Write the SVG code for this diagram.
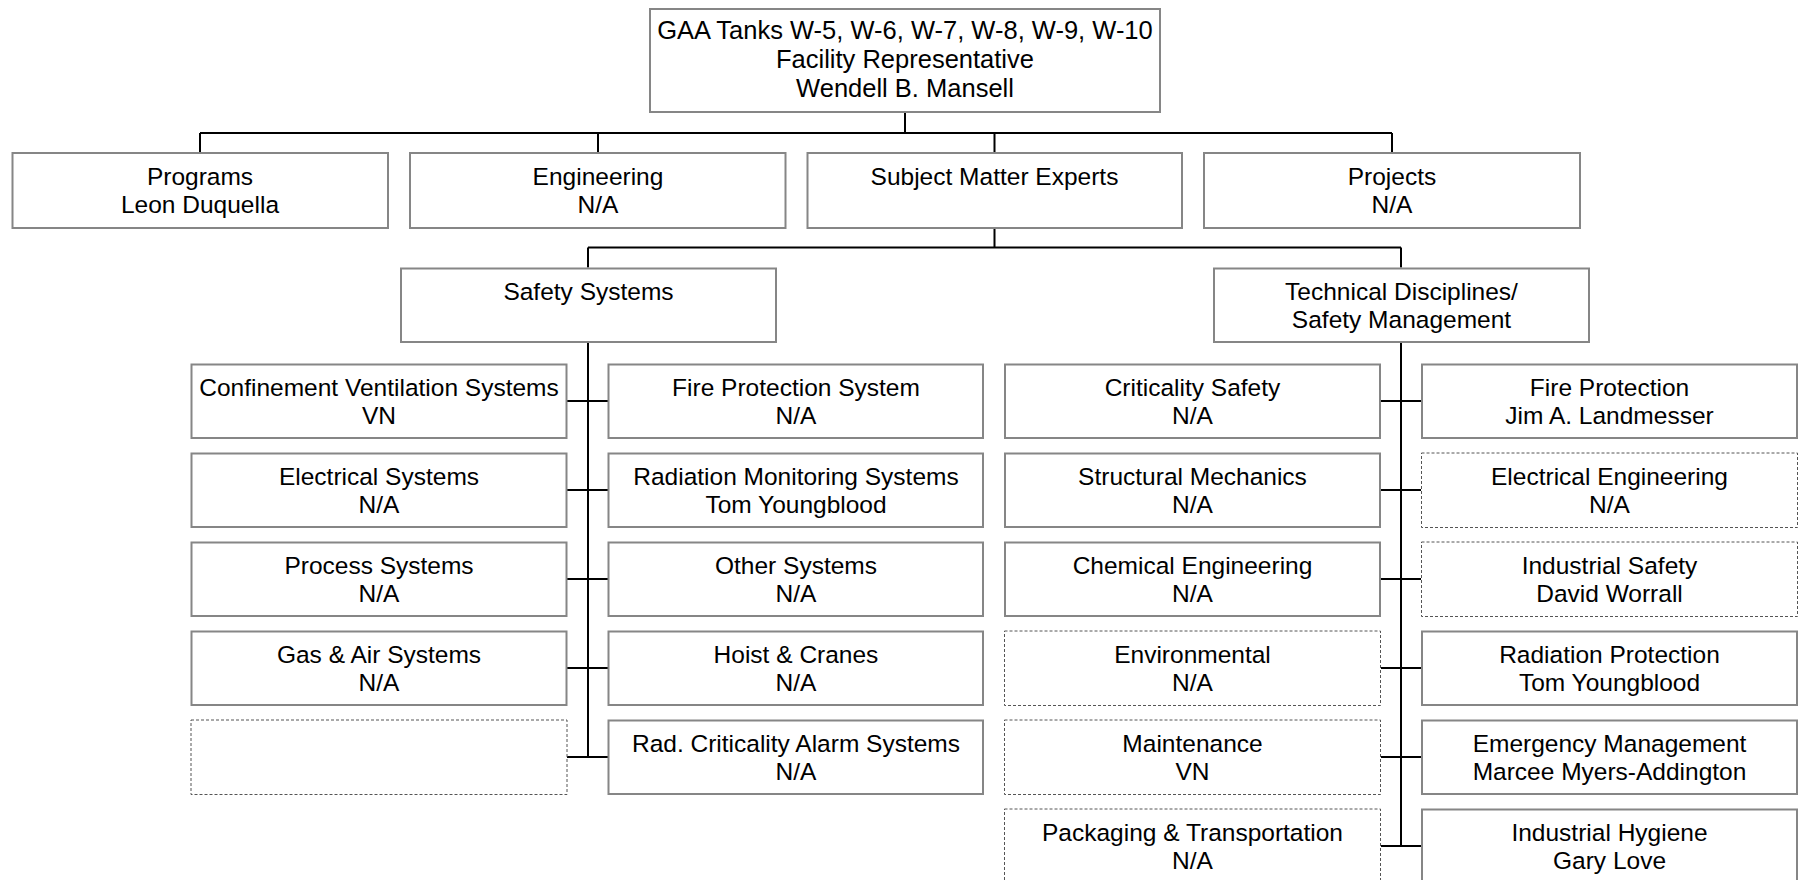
<svg xmlns="http://www.w3.org/2000/svg" width="1799" height="880" viewBox="0 0 1799 880">
<style>
.b{fill:#fff;stroke:#868686;stroke-width:2}
.d{fill:#fff;stroke:#555;stroke-width:1;stroke-dasharray:3 2}
.t{font-family:"Liberation Sans",Arial,sans-serif;font-size:24.5px;fill:#000;text-anchor:middle}
.h{font-size:25.5px}
.c{stroke:#000;stroke-width:2;fill:none}
</style>
<rect width="1799" height="880" fill="#fff"/>
<g id="connectors">
<path class="c" d="M905 113V133M200 133H1392M200 133V152M598 133V152M994.5 133V152M1392 133V152"/>
<path class="c" d="M994.5 229V247.5M588 247.5H1401M588 247.5V267.5M1401 247.5V267.5"/>
<path class="c" d="M588 343V757M567 401H608M567 490H608M567 579H608M567 668H608M567 757H608"/>
<path class="c" d="M1401 343V846M1381 401H1421M1381 490H1421M1381 579H1421M1381 668H1421M1381 757H1421M1381 846H1421"/>
</g>
<g id="top"><rect class="b" x="650" y="9" width="510" height="103"/><text class="t h" x="905" y="39">GAA Tanks W-5, W-6, W-7, W-8, W-9, W-10</text><text class="t h" x="905" y="68">Facility Representative</text><text class="t h" x="905" y="97">Wendell B. Mansell</text></g>
<g id="programs"><rect class="b" x="12.5" y="153" width="375.5" height="75"/><text class="t" x="200" y="185">Programs</text><text class="t" x="200" y="213">Leon Duquella</text></g>
<g id="engineering"><rect class="b" x="410" y="153" width="375.5" height="75"/><text class="t" x="598" y="185">Engineering</text><text class="t" x="598" y="213">N/A</text></g>
<g id="sme"><rect class="b" x="807.5" y="153" width="374.5" height="75"/><text class="t" x="994.5" y="185">Subject Matter Experts</text></g>
<g id="projects"><rect class="b" x="1204" y="153" width="376" height="75"/><text class="t" x="1392" y="185">Projects</text><text class="t" x="1392" y="213">N/A</text></g>
<g id="safety"><rect class="b" x="401" y="268.5" width="375" height="73.5"/><text class="t" x="588.5" y="300">Safety Systems</text></g>
<g id="technical"><rect class="b" x="1214" y="268.5" width="375" height="73.5"/><text class="t" x="1401.5" y="300">Technical Disciplines/</text><text class="t" x="1401.5" y="328">Safety Management</text></g>
<g id="s1"><rect class="b" x="191.5" y="364.5" width="375" height="73.5"/><text class="t" x="379" y="396">Confinement Ventilation Systems</text><text class="t" x="379" y="424">VN</text></g>
<g id="s2"><rect class="b" x="191.5" y="453.5" width="375" height="73.5"/><text class="t" x="379" y="485">Electrical Systems</text><text class="t" x="379" y="513">N/A</text></g>
<g id="s3"><rect class="b" x="191.5" y="542.5" width="375" height="73.5"/><text class="t" x="379" y="574">Process Systems</text><text class="t" x="379" y="602">N/A</text></g>
<g id="s4"><rect class="b" x="191.5" y="631.5" width="375" height="73.5"/><text class="t" x="379" y="663">Gas &amp; Air Systems</text><text class="t" x="379" y="691">N/A</text></g>
<g id="s5"><rect class="d" x="191" y="720" width="376" height="74.5"/></g>
<g id="s6"><rect class="b" x="608.5" y="364.5" width="374.5" height="73.5"/><text class="t" x="796" y="396">Fire Protection System</text><text class="t" x="796" y="424">N/A</text></g>
<g id="s7"><rect class="b" x="608.5" y="453.5" width="374.5" height="73.5"/><text class="t" x="796" y="485">Radiation Monitoring Systems</text><text class="t" x="796" y="513">Tom Youngblood</text></g>
<g id="s8"><rect class="b" x="608.5" y="542.5" width="374.5" height="73.5"/><text class="t" x="796" y="574">Other Systems</text><text class="t" x="796" y="602">N/A</text></g>
<g id="s9"><rect class="b" x="608.5" y="631.5" width="374.5" height="73.5"/><text class="t" x="796" y="663">Hoist &amp; Cranes</text><text class="t" x="796" y="691">N/A</text></g>
<g id="s10"><rect class="b" x="608.5" y="720.5" width="374.5" height="73.5"/><text class="t" x="796" y="752">Rad. Criticality Alarm Systems</text><text class="t" x="796" y="780">N/A</text></g>
<g id="t1"><rect class="b" x="1005" y="364.5" width="375" height="73.5"/><text class="t" x="1192.5" y="396">Criticality Safety</text><text class="t" x="1192.5" y="424">N/A</text></g>
<g id="t2"><rect class="b" x="1005" y="453.5" width="375" height="73.5"/><text class="t" x="1192.5" y="485">Structural Mechanics</text><text class="t" x="1192.5" y="513">N/A</text></g>
<g id="t3"><rect class="b" x="1005" y="542.5" width="375" height="73.5"/><text class="t" x="1192.5" y="574">Chemical Engineering</text><text class="t" x="1192.5" y="602">N/A</text></g>
<g id="t4"><rect class="d" x="1004.5" y="631" width="376" height="74.5"/><text class="t" x="1192.5" y="663">Environmental</text><text class="t" x="1192.5" y="691">N/A</text></g>
<g id="t5"><rect class="d" x="1004.5" y="720" width="376" height="74.5"/><text class="t" x="1192.5" y="752">Maintenance</text><text class="t" x="1192.5" y="780">VN</text></g>
<g id="t6"><rect class="d" x="1004.5" y="809" width="376" height="74.5"/><text class="t" x="1192.5" y="841">Packaging &amp; Transportation</text><text class="t" x="1192.5" y="869">N/A</text></g>
<g id="t7"><rect class="b" x="1422" y="364.5" width="375" height="73.5"/><text class="t" x="1609.5" y="396">Fire Protection</text><text class="t" x="1609.5" y="424">Jim A. Landmesser</text></g>
<g id="t8"><rect class="d" x="1421.5" y="453" width="376" height="74.5"/><text class="t" x="1609.5" y="485">Electrical Engineering</text><text class="t" x="1609.5" y="513">N/A</text></g>
<g id="t9"><rect class="d" x="1421.5" y="542" width="376" height="74.5"/><text class="t" x="1609.5" y="574">Industrial Safety</text><text class="t" x="1609.5" y="602">David Worrall</text></g>
<g id="t10"><rect class="b" x="1422" y="631.5" width="375" height="73.5"/><text class="t" x="1609.5" y="663">Radiation Protection</text><text class="t" x="1609.5" y="691">Tom Youngblood</text></g>
<g id="t11"><rect class="b" x="1422" y="720.5" width="375" height="73.5"/><text class="t" x="1609.5" y="752">Emergency Management</text><text class="t" x="1609.5" y="780">Marcee Myers-Addington</text></g>
<g id="t12"><rect class="b" x="1422" y="809.5" width="375" height="73.5"/><text class="t" x="1609.5" y="841">Industrial Hygiene</text><text class="t" x="1609.5" y="869">Gary Love</text></g>
</svg>
